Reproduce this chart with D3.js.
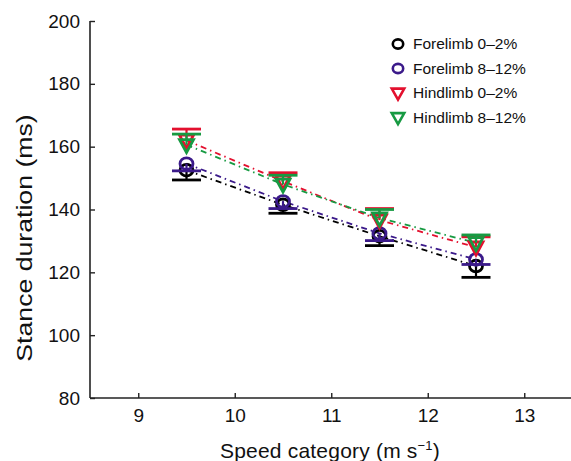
<!DOCTYPE html>
<html>
<head>
<meta charset="utf-8">
<script src="https://cdn.jsdelivr.net/npm/d3@7"></script>
<style>
  html, body { margin: 0; padding: 0; background: #fff; }
  svg { display: block; font-family: "Liberation Sans", Arial, sans-serif; }
</style>
</head>
<body>
<svg id="chart" width="571" height="461"></svg>
<script>
// ---- data ----
const speeds = [9.5, 10.5, 11.5, 12.5];
const xTicks = [9, 10, 11, 12, 13];
const yTicks = [80, 100, 120, 140, 160, 180, 200];
const seriesNames = ["Forelimb 0–2%", "Forelimb 8–12%", "Hindlimb 0–2%", "Hindlimb 8–12%"];
const forelimb0 = [152.5, 141.5, 131.5, 122.0];
const forelimb0Err = [3.1, 2.7, 3.0, 3.6];
const forelimb8 = [154.6, 142.6, 132.4, 124.1];
const forelimb8Err = [2.3, 2.3, 2.3, 1.6];
const hindlimb0 = [162.0, 149.0, 136.6, 128.0];
const hindlimb0Err = [3.6, 2.7, 3.7, 3.3];
const hindlimb8 = [160.6, 148.0, 137.3, 129.4];
const hindlimb8Err = [3.4, 2.9, 2.7, 2.5];

const series = [
  { name: seriesNames[0], values: forelimb0, err: forelimb0Err, dir: -1, color: "#000000", shape: "circle" },
  { name: seriesNames[1], values: forelimb8, err: forelimb8Err, dir: -1, color: "#3b1a8a", shape: "circle" },
  { name: seriesNames[2], values: hindlimb0, err: hindlimb0Err, dir: 1, color: "#e3102e", shape: "triangle" },
  { name: seriesNames[3], values: hindlimb8, err: hindlimb8Err, dir: 1, color: "#179a42", shape: "triangle" }
];

const svg = d3.select("#chart");
const x = d3.scaleLinear().domain([8.5, 13.5]).range([90, 572.5]);
const y = d3.scaleLinear().domain([80, 200]).range([398, 21]);

// axes
const xAxis = d3.axisBottom(x).tickValues(xTicks).tickSize(-5).tickPadding(11).tickFormat(d3.format("d"));
const yAxis = d3.axisLeft(y).tickValues(yTicks).tickSize(-5).tickPadding(10).tickFormat(d3.format("d"));

const gx = svg.append("g").attr("transform", "translate(0,398)").call(xAxis);
const gy = svg.append("g").attr("transform", "translate(90,0)").call(yAxis);
[gx, gy].forEach(g => {
  g.select(".domain").attr("stroke", "#222").attr("stroke-width", 1.6);
  g.selectAll(".tick line").attr("stroke", "#222").attr("stroke-width", 1.4);
  g.selectAll(".tick text").attr("fill", "#111").style("font-size", "19px");
});
gy.select(".domain").attr("d", "M0,21V398");
gx.select(".domain").attr("d", "M90,0H572.5");
gx.selectAll(".tick text").attr("dy", "0.71em");

// titles
svg.append("text").attr("x", 330).attr("y", 458).attr("text-anchor", "middle")
  .style("font-size", "21px").style("letter-spacing", "0.2px").attr("fill", "#111")
  .html('Speed category (m s<tspan dy="-8" style="font-size:13px">−1</tspan><tspan dy="8">)</tspan>');
svg.append("text").attr("transform", "translate(32,238) rotate(-90) scale(1.24,1)").attr("text-anchor", "middle")
  .style("font-size", "21.5px").attr("fill", "#111").text("Stance duration (ms)");

// lines
const line = d3.line().x((d, i) => x(speeds[i])).y(d => y(d));
series.forEach(s => {
  svg.append("path").datum(s.values).attr("d", line)
    .attr("fill", "none").attr("stroke", s.color).attr("stroke-width", 1.8)
    .attr("stroke-dasharray", "6,4,1.5,4");
});

// markers and error bars
const tri = (cx, cy, w, h) => `M${cx - w / 2},${cy - h * 0.4}L${cx + w / 2},${cy - h * 0.4}L${cx},${cy + h * 0.6}Z`;
series.forEach(s => {
  const g = svg.append("g");
  s.values.forEach((v, i) => {
    const cx = x(speeds[i]);
    const cap = y(v + s.dir * s.err[i]);
    g.append("line").attr("x1", cx).attr("x2", cx).attr("y1", y(v)).attr("y2", cap)
      .attr("stroke", s.color).attr("stroke-width", 2.2);
    g.append("line").attr("x1", cx - 14.5).attr("x2", cx + 14.5).attr("y1", cap).attr("y2", cap)
      .attr("stroke", s.color).attr("stroke-width", 2.8);
    if (s.shape === "circle") {
      g.append("ellipse").attr("cx", cx).attr("cy", y(v)).attr("rx", 6.5).attr("ry", 5.8)
        .attr("fill", "none").attr("stroke", s.color).attr("stroke-width", 2.8);
    } else {
      g.append("path").attr("d", tri(cx, y(v), 14, 13))
        .attr("fill", "none").attr("stroke", s.color).attr("stroke-width", 2.8).attr("stroke-linejoin", "miter");
    }
  });
});

// legend
const legend = svg.append("g");
series.forEach((s, i) => {
  const ly = 44 + i * 24.5;
  if (s.shape === "circle") {
    legend.append("ellipse").attr("cx", 398).attr("cy", ly).attr("rx", 5.2).attr("ry", 4.6)
      .attr("fill", "none").attr("stroke", s.color).attr("stroke-width", 2.6);
  } else {
    legend.append("path").attr("d", tri(398, ly, 12.5, 11))
      .attr("fill", "none").attr("stroke", s.color).attr("stroke-width", 2.6);
  }
  legend.append("text").attr("x", 413).attr("y", ly).attr("dy", "0.35em")
    .style("font-size", "15.5px").attr("fill", "#111").text(s.name);
});
</script>
</body>
</html>
